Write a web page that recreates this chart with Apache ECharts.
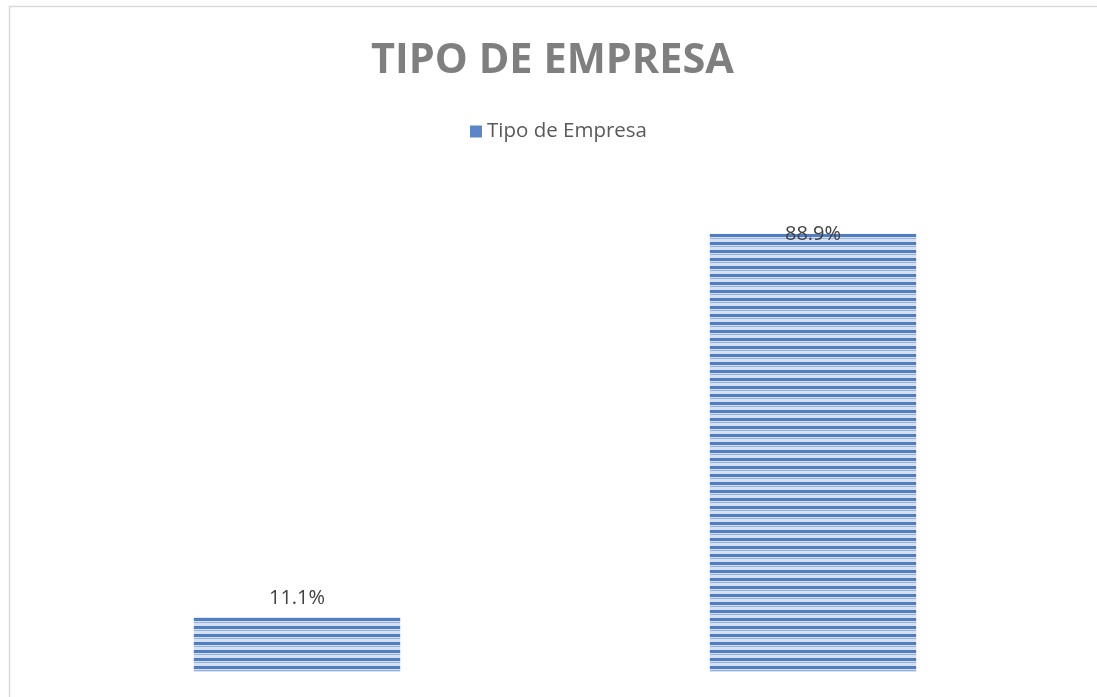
<!DOCTYPE html>
<html>
<head>
<meta charset="utf-8">
<script src="https://cdn.jsdelivr.net/npm/echarts@6/dist/echarts.min.js"></script>
<style>
  html, body { margin: 0; padding: 0; background: #fff; }
</style>
</head>
<body>
<div id="main" style="width:1097px;height:697px;"></div>
<script>
// datos
var categories = ['Tipo A', 'Tipo B'];
var valores = [11.1, 88.9];
var serieNombre = 'Tipo de Empresa';

// patron de rayas horizontales (como el relleno de Excel)
function makePattern() {
  var c = document.createElement('canvas');
  c.width = 8;
  c.height = 8;
  var ctx = c.getContext('2d');
  ctx.fillStyle = '#d6e0f2';
  ctx.fillRect(0, 0, 8, 8);
  ctx.fillStyle = '#4f7ec4';
  ctx.fillRect(0, 2, 8, 3);
  ctx.fillStyle = '#97b2de';
  ctx.fillRect(0, 6, 8, 1);
  return c;
}

var myChart = echarts.init(document.getElementById('main'));

var seriesData = valores.map(function (v, i) {
  var item = { value: v };
  if (i === 1) {
    // en el original la etiqueta queda pegada al borde superior
    item.label = { position: 'insideTop', offset: [0, -18] };
  }
  return item;
});

var option = {
  animation: false,
  backgroundColor: '#fff',
  title: {
    text: 'TIPO DE EMPRESA',
    left: 366,
    top: 35,
    textStyle: {
      fontFamily: 'Open Sans',
      fontWeight: 'bold',
      fontSize: 41.5,
      color: '#7f7f7f'
    }
  },
  legend: {
    top: 116,
    left: 465,
    itemWidth: 12,
    itemHeight: 12,
    itemGap: 6,
    icon: 'rect',
    data: [serieNombre],
    itemStyle: { color: '#5b87c8' },
    textStyle: {
      fontFamily: 'Open Sans',
      fontSize: 20.5,
      color: '#595959'
    }
  },
  grid: {
    left: 39,
    right: 26,
    top: 179,
    bottom: 25
  },
  xAxis: {
    type: 'category',
    data: categories,
    axisLine: { show: false },
    axisTick: { show: false },
    axisLabel: { show: false }
  },
  yAxis: {
    type: 'value',
    min: 0,
    max: 100,
    show: false,
    splitLine: { show: false }
  },
  graphic: [{
    type: 'rect',
    shape: { x: 9.5, y: 6.5, width: 1100, height: 700 },
    style: { fill: 'none', stroke: '#d9d9d9', lineWidth: 1.5 },
    silent: true
  }],
  series: [{
    name: serieNombre,
    type: 'bar',
    barWidth: '40%',
    data: seriesData,
    itemStyle: {
      color: { image: makePattern(), repeat: 'repeat' }
    },
    label: {
      show: true,
      position: 'top',
      distance: 9,
      formatter: function (p) { return p.value.toFixed(1) + '%'; },
      fontFamily: 'Open Sans',
      fontSize: 20,
      color: '#404040'
    }
  }]
};

myChart.setOption(option);
</script>
</body>
</html>
